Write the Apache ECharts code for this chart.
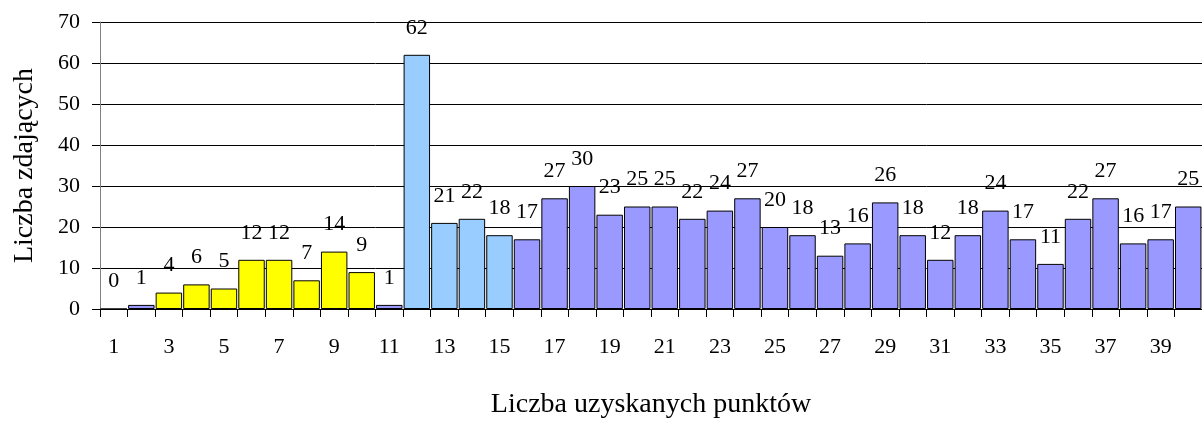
<!DOCTYPE html>
<html>
<head>
<meta charset="utf-8">
<script src="https://cdn.jsdelivr.net/npm/echarts@6/dist/echarts.min.js"></script>
<style>html,body{margin:0;padding:0;background:#fff;}#c{width:1202px;height:424px;}</style>
</head>
<body>
<div id="c"></div>
<script>
const categories = ['1','2','3','4','5','6','7','8','9','10','11','12','13','14','15','16','17','18','19','20','21','22','23','24','25','26','27','28','29','30','31','32','33','34','35','36','37','38','39','40'];
const values = [0,1,4,6,5,12,12,7,14,9,1,62,21,22,18,17,27,30,23,25,25,22,24,27,20,18,13,16,26,18,12,18,24,17,11,22,27,16,17,25];
const yTicks = [0,10,20,30,40,50,60,70];
const yTitle = 'Liczba zdających';
const xTitle = 'Liczba uzyskanych punktów';

const YELLOW = '#FFFF00', LIGHTBLUE = '#99CCFF', PURPLE = '#9999FF';
function colorFor(i) {
  if (i >= 2 && i <= 9) return YELLOW;
  if (i >= 11 && i <= 14) return LIGHTBLUE;
  return PURPLE;
}
const font = 'Liberation Serif';
const chart = echarts.init(document.getElementById('c'), null, {renderer: 'canvas'});
chart.setOption({
  animation: false,
  backgroundColor: '#fff',
  grid: {left: 100, top: 22, width: 1104, height: 288, containLabel: false},
  xAxis: {
    type: 'category',
    data: categories,
    name: xTitle,
    nameLocation: 'middle',
    nameGap: 82,
    nameTextStyle: {fontFamily: font, fontSize: 28, color: '#000'},
    axisLine: {lineStyle: {color: '#000', width: 1}},
    axisTick: {show: true, interval: 0, alignWithLabel: false, length: 8, lineStyle: {color: '#000'}},
    axisLabel: {interval: 1, margin: 27, fontFamily: font, fontSize: 22, color: '#000'},
    splitLine: {show: false}
  },
  yAxis: {
    type: 'value',
    min: yTicks[0],
    max: yTicks[yTicks.length - 1],
    interval: 10,
    name: yTitle,
    nameLocation: 'middle',
    nameGap: 61,
    nameTextStyle: {fontFamily: font, fontSize: 28, color: '#000'},
    axisLine: {show: true, lineStyle: {color: '#808080', width: 1}},
    axisTick: {show: true, length: 8, lineStyle: {color: '#000'}},
    axisLabel: {margin: 20, fontFamily: font, fontSize: 22, color: '#000'},
    splitLine: {show: true, lineStyle: {color: '#000', width: 1}}
  },
  series: [{
    type: 'bar',
    barCategoryGap: '4%',
    data: values.map((v, i) => ({value: v, itemStyle: {color: colorFor(i)}})),
    itemStyle: {borderColor: '#000', borderWidth: 1},
    label: {show: true, position: 'top', distance: 16, fontFamily: font, fontSize: 22, color: '#000'}
  }]
});
</script>
</body>
</html>
